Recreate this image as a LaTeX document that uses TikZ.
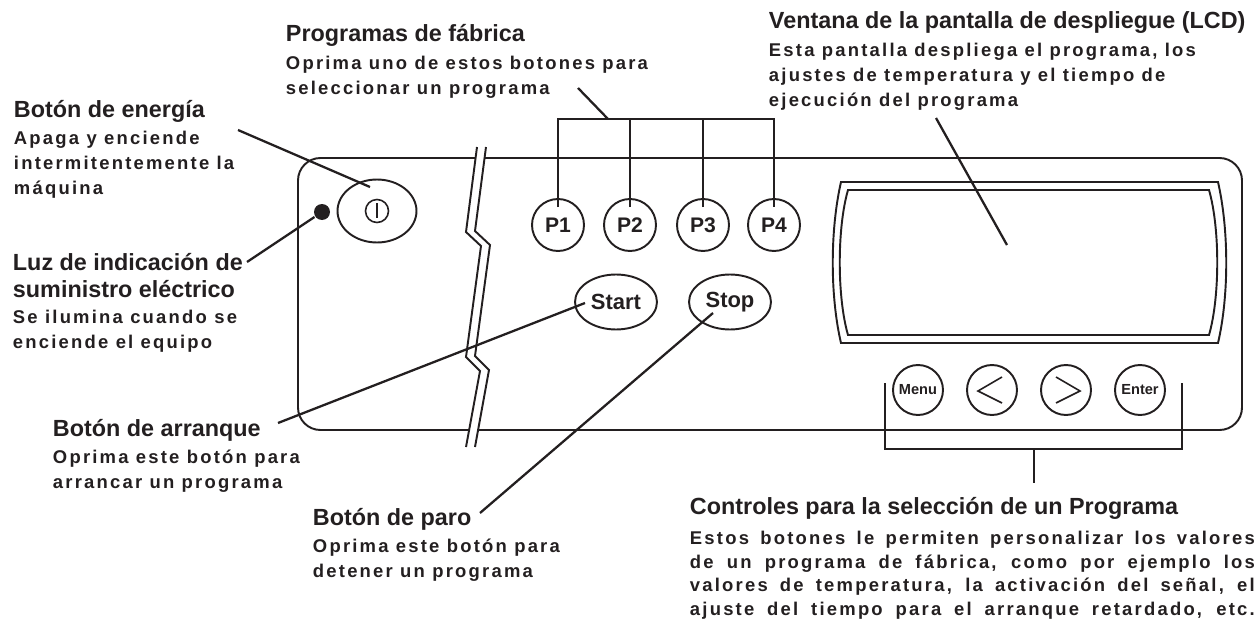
\documentclass[tikz,border=0pt]{standalone}
\usepackage{fontspec}
\setmainfont{Liberation Sans}
\newfontfamily\descfont{Liberation Sans}[LetterSpace=12]
\usetikzlibrary{shapes.geometric, positioning}
\definecolor{ink}{HTML}{231F20}
\newcommand{\jline}[1]{\makebox[11.3cm][s]{#1}}

\begin{document}
\begin{tikzpicture}[x=0.02cm, y=-0.02cm, line width=1.1pt, color=ink,
    head/.style={anchor=base west, inner sep=0pt, align=left, font=\bfseries\fontsize{13.3}{14.8}\selectfont},
    desc/.style={anchor=base west, inner sep=0pt, align=left, font=\descfont\bfseries\fontsize{10.5}{14}\selectfont},
    leader/.style={line width=1.3pt},
    pbtn/.style={draw, circle, minimum size=1.04cm, inner sep=0pt, font=\bfseries\fontsize{12}{14}\selectfont},
    oval/.style={draw, ellipse, minimum width=1.64cm, minimum height=1.1cm, inner sep=0pt, font=\bfseries\fontsize{12.5}{14}\selectfont},
    cbtn/.style={draw, circle, minimum size=1cm, inner sep=0pt, font=\bfseries\fontsize{8.3}{10}\selectfont}]
  \useasboundingbox (0,0) rectangle (1259,622);

  % panel with break
  \draw[rounded corners=0.45cm] (298,158) rectangle (1242,430);
  \fill[white] (477,147) -- (466,232) -- (481,246) -- (466,357) -- (480,371) -- (466,447)
    -- (475,447) -- (489,370) -- (475,356) -- (490,245) -- (475,231) -- (486,147) -- cycle;
  \draw (477,147) -- (466,232) -- (481,246) -- (466,357) -- (480,371) -- (466,447);
  \draw (486,147) -- (475,231) -- (490,245) -- (475,356) -- (489,370) -- (475,447);

  % display window
  \draw (841,182) -- (1218,182) .. controls (1229,230) and (1229,296) .. (1218,343)
    -- (841,343) .. controls (830,296) and (830,230) .. (841,182) -- cycle;
  \draw (848,190) -- (1209,190) .. controls (1220,228) and (1220,297) .. (1209,335)
    -- (848,335) .. controls (837,297) and (837,228) .. (848,190) -- cycle;
  \coordinate (lcdmark) at (1007,245);

  % power button and lamp
  \node[draw, ellipse, minimum width=1.58cm, minimum height=1.26cm] (power) at (377,211) {};
  \draw[line width=0.9pt] (power.center) circle[radius=11.5];
  \draw[line width=0.9pt] ([shift={(0,-8)}]power.center) -- ([shift={(0,7)}]power.center);
  \node[circle, fill, minimum size=0.32cm, inner sep=0pt] (lamp) at (322,212) {};

  % factory programs
  \foreach \i/\x in {1/558, 2/630, 3/703, 4/774}
    \node[pbtn] (P\i) at (\x,225) {P\i};
  \coordinate (pbar) at (608,119);
  \draw ([yshift=-0.18cm]P1.north) -- (P1.north |- pbar) -- (P4.north |- pbar) -- ([yshift=-0.18cm]P4.north);
  \foreach \i in {2,3}
    \draw ([yshift=-0.18cm]P\i.north) -- (P\i.north |- pbar);

  % start / stop
  \node[oval] (start) at (616,302) {Start};
  \node[oval] (stop) at (730,302) {Stop};

  % program controls
  \node[cbtn] (menu) at (918,390) {Menu};
  \node[cbtn] (prev) at (992,390) {};
  \node[cbtn] (next) at (1066,390) {};
  \node[cbtn] (enter) at (1140,390) {Enter};
  \draw[line width=0.9pt] ([shift={(10,-13)}]prev.center) -- ([shift={(-14,1)}]prev.center) -- ([shift={(10,13)}]prev.center);
  \draw[line width=0.9pt] ([shift={(-10,-13)}]next.center) -- ([shift={(14,1)}]next.center) -- ([shift={(-10,13)}]next.center);
  \coordinate (cbl) at (885,383);
  \coordinate (cbr) at (1182,383);
  \coordinate (cstem) at (1034,449);
  \coordinate (ctxt) at (1034,483);
  \draw (cbl) |- (cbr |- cstem) -- (cbr);
  \draw (cstem) -- (ctxt);

  % labels (multi-line nodes sit on their last baseline)
  \node[head] (energia) at (13,117) {Botón de energía};
  \node[desc] (energiatxt) at (13,194) {Apaga y enciende\\intermitentemente la\\máquina};
  \node[head] (luz) at (12,297) {Luz de indicación de\\suministro eléctrico};
  \node[desc] (luztxt) at (12,348) {Se ilumina cuando se\\enciende el equipo};
  \node[head] (arranque) at (52,436) {Botón de arranque};
  \node[desc] (arranquetxt) at (52,488) {Oprima este botón para\\arrancar un programa};
  \node[head] (paro) at (312,525) {Botón de paro};
  \node[desc] (parotxt) at (312,577) {Oprima este botón para\\detener un programa};
  \node[head] (programas) at (285,41) {Programas de fábrica};
  \node[desc] (programastxt) at (285,94) {Oprima uno de estos botones para\\seleccionar un programa};
  \node[head] (ventana) at (768,29) {Ventana de la pantalla de despliegue (LCD)};
  \node[desc] (ventanatxt) at (768,106) {Esta pantalla despliega el programa, los\\ajustes de temperatura y el tiempo de\\ejecución del programa};
  \node[head] (controles) at (689,514) {Controles para la selección de un Programa};
  \node[desc, font=\descfont\bfseries\fontsize{10.5}{13.3}\selectfont] (controlestxt) at (689,615)
    {\jline{Estos botones le permiten personalizar los valores}\\
     \jline{de un programa de fábrica, como por ejemplo los}\\
     \jline{valores de temperatura, la activación del señal, el}\\
     \jline{ajuste del tiempo para el arranque retardado, etc.}};

  % leaders
  \coordinate (energiaend) at (238,130);
  \coordinate (luzend) at (247,262);
  \coordinate (programasend) at (578,88);
  \coordinate (ventanaend) at (936,118);
  \coordinate (arranqueend) at (278,423);
  \coordinate (paroend) at (480,513);
  \draw[leader] (energiaend) -- ([shift={(-7,-24)}]power.center);
  \draw[leader] (luzend) -- (lamp);
  \draw[leader] (programasend) -- (pbar);
  \draw[leader] (ventanaend) -- (lcdmark);
  \draw[leader] (arranqueend) -- ([shift={(-31,1)}]start.center);
  \draw[leader] (paroend) -- ([shift={(-17,11)}]stop.center);
\end{tikzpicture}
\end{document}
